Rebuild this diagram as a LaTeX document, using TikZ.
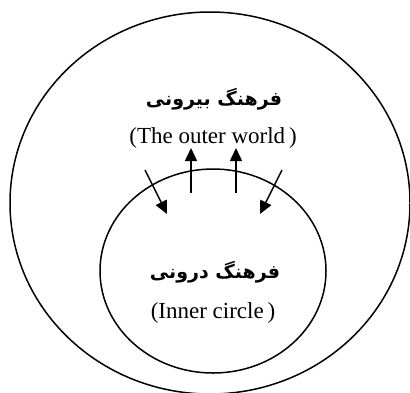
\documentclass[tikz,border=0pt]{standalone}
\usepackage{fontspec}
\setmainfont{Liberation Serif}
\newfontfamily\arabicfont[Script=Arabic]{DejaVu Sans}
\TeXXeTstate=1
\usetikzlibrary{positioning, arrows.meta, shapes.geometric}

\tikzset{
  world/.style={draw, ellipse, line width=0.75pt, inner sep=0pt},
  fatitle/.style={font=\arabicfont\bfseries\fontsize{9.5}{11}\selectfont, inner sep=0pt},
  entitle/.style={font=\fontsize{11.5}{13}\selectfont, inner sep=0pt},
  flow/.style={-{Triangle[length=6.5pt, width=6pt]}, line width=0.75pt}
}

\begin{document}
\begin{tikzpicture}[x=0.5pt, y=-0.5pt]
  \useasboundingbox (0,0) rectangle (410,392);
  \node (outer) [world, minimum width=200pt, minimum height=191pt] at (210,203) {};
  \node (inner) [world, minimum width=113pt, minimum height=102pt] at (213,271) {};
  \node (outerfa) [fatitle] at (214,99) {\beginR فرهنگ بیرونی\endR};
  \node (outeren) [entitle] at (213,138) {(The outer world\,)};
  \node (innerfa) [fatitle] at (215,272) {\beginR فرهنگ درونی\endR};
  \node (inneren) [entitle] at (213,313) {(Inner circle\,)};
  % arrows across the border of the inner circle
  \coordinate (in1a) at (145,170);
  \coordinate (in1b) at (167,214);
  \coordinate (out1a) at (191,193);
  \coordinate (out1b) at (191,148);
  \coordinate (out2a) at (236,193);
  \coordinate (out2b) at (236,148);
  \coordinate (in2a) at (282,170);
  \coordinate (in2b) at (260,214);
  \draw[flow] (in1a) -- (in1b);
  \draw[flow] (out1a) -- (out1b);
  \draw[flow] (out2a) -- (out2b);
  \draw[flow] (in2a) -- (in2b);
\end{tikzpicture}
\end{document}
